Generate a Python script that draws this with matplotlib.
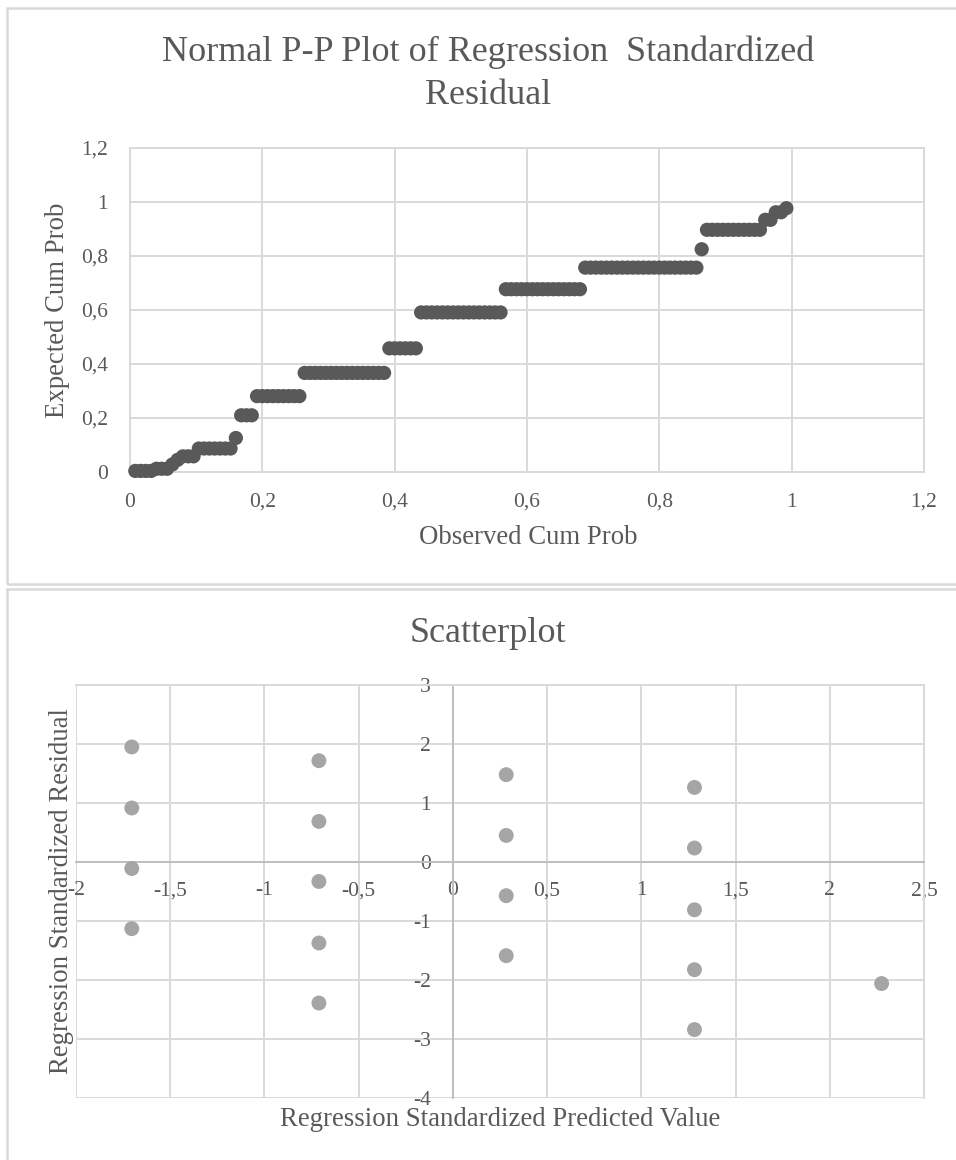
import numpy as np
import matplotlib
matplotlib.use("Agg")
import matplotlib.pyplot as plt
from matplotlib.patches import Rectangle
from matplotlib.ticker import FuncFormatter

# ---------------- data ----------------
# Normal P-P plot: expected cumulative probability levels and number of cases per level
pp_expected_levels = [0.004, 0.012, 0.028, 0.045, 0.058, 0.087, 0.126, 0.210, 0.281,
                      0.367, 0.458, 0.591, 0.677, 0.757, 0.825, 0.897, 0.934, 0.962, 0.977]
pp_level_counts = [4, 3, 1, 1, 3, 7, 1, 3, 9, 16, 6, 16, 15, 22, 1, 11, 2, 2, 1]

# Scatterplot: standardized predicted value vs standardized residual
sc_predicted = [-1.704, -1.704, -1.704, -1.704,
                -0.711, -0.711, -0.711, -0.711, -0.711,
                0.283, 0.283, 0.283, 0.283,
                1.282, 1.282, 1.282, 1.282, 1.282,
                2.275]
sc_residual = [1.95, 0.915, -0.11, -1.13,
               1.717, 0.688, -0.33, -1.373, -2.39,
               1.48, 0.45, -0.571, -1.588,
               1.264, 0.237, -0.81, -1.825, -2.84,
               -2.06]

pp_title = "Normal P-P Plot of Regression  Standardized\nResidual"
pp_xlabel = "Observed Cum Prob"
pp_ylabel = "Expected Cum Prob"
pp_ticks = [0, 0.2, 0.4, 0.6, 0.8, 1.0, 1.2]
sc_title = "Scatterplot"
sc_xlabel = "Regression Standardized Predicted Value"
sc_ylabel = "Regression Standardized Residual"
sc_xticks = [-2, -1.5, -1, -0.5, 0, 0.5, 1, 1.5, 2, 2.5]
sc_yticks = [-4, -3, -2, -1, 0, 1, 2, 3]

# expand P-P data: observed cum prob = rank / (N + 1)
pp_expected = np.repeat(pp_expected_levels, pp_level_counts)
N = len(pp_expected)
pp_observed = np.arange(1, N + 1) / (N + 1)

# ---------------- style ----------------
W, H = 956, 1160
DPI = 100
TXT = "#595959"
GRID = "#d9d9d9"
AXLINE = "#bfbfbf"
FONT = "Liberation Serif"
plt.rcParams["font.family"] = [FONT, "DejaVu Serif"]

fig = plt.figure(figsize=(W / DPI, H / DPI), dpi=DPI)
fig.patch.set_facecolor("white")


def fx(px):
    return px / W


def fy(py):
    return 1 - py / H


def comma(v, pos=None):
    s = ("%g" % v)
    return s.replace(".", ",")


# chart frames
fig.add_artist(Rectangle((fx(7), fy(584)), fx(1000) - fx(7), fy(8) - fy(584),
                         transform=fig.transFigure, fill=False, ec=GRID, lw=1.8))
fig.add_artist(Rectangle((fx(7), fy(1200)), fx(1000) - fx(7), fy(589) - fy(1200),
                         transform=fig.transFigure, fill=False, ec=GRID, lw=1.8))

# ---------------- top: P-P plot ----------------
l1, r1, t1, b1 = 130, 924, 148, 472
ax1 = fig.add_axes([fx(l1), fy(b1), fx(r1 - l1), fy(t1) - fy(b1)])
ax1.set_xlim(0, 1.2)
ax1.set_ylim(0, 1.2)
ax1.set_xticks(pp_ticks)
ax1.set_yticks(pp_ticks)
ax1.xaxis.set_major_formatter(FuncFormatter(comma))
ax1.yaxis.set_major_formatter(FuncFormatter(comma))
ax1.grid(True, color=GRID, lw=1.4)
ax1.set_axisbelow(True)
for s in ax1.spines.values():
    s.set_color(GRID)
    s.set_linewidth(1.4)
ax1.tick_params(length=0, labelsize=15.5, labelcolor=TXT)
ax1.tick_params(axis="x", pad=15)
ax1.tick_params(axis="y", pad=16)
ax1.scatter(pp_observed, pp_expected, s=105, color="#595959", edgecolors="none",
            zorder=3, clip_on=False)

fig.text(fx(488), fy(52), pp_title.split("\n")[0], ha="center", va="center",
         fontsize=26, color=TXT)
fig.text(fx(488), fy(95), pp_title.split("\n")[1], ha="center", va="center",
         fontsize=26, color=TXT)
fig.text(fx(528), fy(538), pp_xlabel, ha="center", va="center", fontsize=19.3, color=TXT)
fig.text(fx(57), fy(310), pp_ylabel, ha="center", va="center", rotation=90,
         fontsize=19.3, color=TXT)

# ---------------- bottom: scatterplot ----------------
l2, r2, t2, b2 = 76, 924, 685, 1098
ax2 = fig.add_axes([fx(l2), fy(b2), fx(r2 - l2), fy(t2) - fy(b2)])
ax2.set_xlim(-2, 2.5)
ax2.set_ylim(-4, 3)
ax2.set_xticks(sc_xticks)
ax2.set_yticks(sc_yticks)
ax2.xaxis.set_major_formatter(FuncFormatter(comma))
ax2.yaxis.set_major_formatter(FuncFormatter(comma))
ax2.grid(True, color=GRID, lw=1.4)
ax2.set_axisbelow(True)
ax2.spines["left"].set_position(("data", 0))
ax2.spines["bottom"].set_position(("data", 0))
ax2.spines["left"].set_color(AXLINE)
ax2.spines["bottom"].set_color(AXLINE)
ax2.spines["left"].set_linewidth(1.4)
ax2.spines["bottom"].set_linewidth(1.4)
ax2.spines["top"].set_color(GRID)
ax2.spines["right"].set_color(GRID)
ax2.spines["top"].set_linewidth(1.4)
ax2.spines["right"].set_linewidth(1.4)
ax2.add_artist(Rectangle((0, 0), 1, 1, transform=ax2.transAxes, fill=False,
                         ec=GRID, lw=1.4, zorder=0.5))
ax2.tick_params(length=0, labelsize=15.5, labelcolor=TXT)
ax2.tick_params(axis="x", pad=14)
ax2.tick_params(axis="y", pad=16)
ax2.scatter(sc_predicted, sc_residual, s=115, color="#a5a5a5", edgecolors="none", zorder=3)

fig.text(fx(488), fy(633), sc_title, ha="center", va="center", fontsize=26, color=TXT)
fig.text(fx(500), fy(1120), sc_xlabel, ha="center", va="center", fontsize=19.3, color=TXT)
fig.text(fx(62), fy(891), sc_ylabel, ha="center", va="center", rotation=90,
         fontsize=19.3, color=TXT)

fig.savefig("out.png", dpi=DPI, facecolor="white")
